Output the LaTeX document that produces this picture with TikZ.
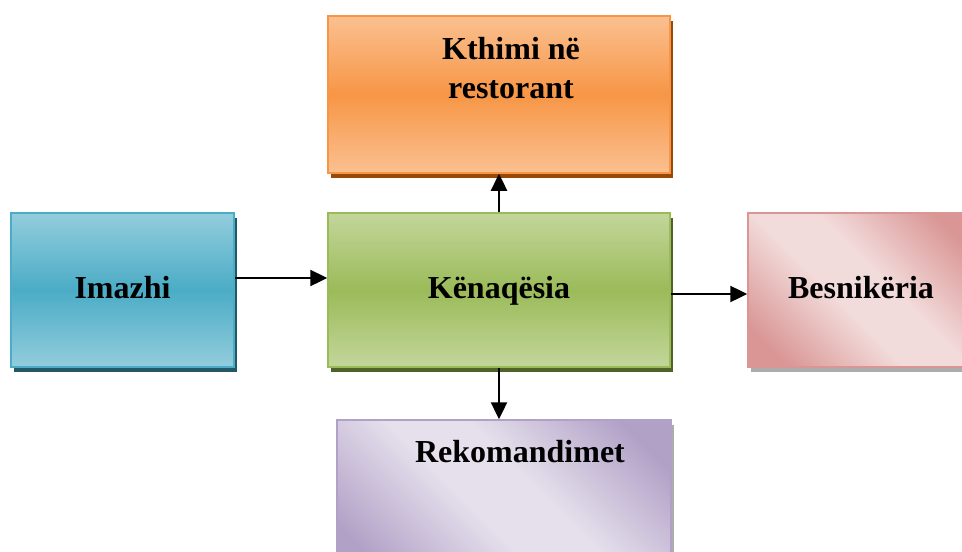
\documentclass[tikz,border=0pt]{standalone}
\usepackage{fontspec}
\setmainfont{Liberation Serif}
\usetikzlibrary{arrows.meta,shadows}

\definecolor{orangeLight}{HTML}{FAC090}
\definecolor{orangeMid}{HTML}{F79646}
\definecolor{orangeShadow}{HTML}{984807}
\definecolor{blueLight}{HTML}{93CDDD}
\definecolor{blueMid}{HTML}{4BACC6}
\definecolor{blueShadow}{HTML}{215968}
\definecolor{greenLight}{HTML}{C3D69B}
\definecolor{greenMid}{HTML}{9BBB59}
\definecolor{greenShadow}{HTML}{4F6228}
\definecolor{pinkDark}{HTML}{D99694}
\definecolor{pinkLight}{HTML}{F2DCDB}
\definecolor{purpleDark}{HTML}{B2A1C7}
\definecolor{purpleLight}{HTML}{E5E0EC}

% dark corners, wide light band
\pgfdeclareverticalshading{pinkdiag}{100bp}{color(0bp)=(pinkDark); color(22bp)=(pinkDark);
  color(44bp)=(pinkLight); color(56bp)=(pinkLight); color(78bp)=(pinkDark); color(100bp)=(pinkDark)}
\pgfdeclareverticalshading{purplediag}{100bp}{color(0bp)=(purpleDark); color(22bp)=(purpleDark);
  color(44bp)=(purpleLight); color(56bp)=(purpleLight); color(78bp)=(purpleDark); color(100bp)=(purpleDark)}

\tikzset{
  label font/.style={font=\fontsize{16}{19.5}\selectfont\bfseries},
  box/.style={rectangle,line width=0.75pt,minimum height=77pt,
    text height=8pt,text depth=0pt,label font},
  vbox/.style n args={4}{box,draw=#2,top color=#1,bottom color=#1,middle color=#2,
    drop shadow={shadow xshift=1.5pt,shadow yshift=-2.5pt,fill=#3,opacity=1}},
  dbox/.style 2 args={box,draw=#1,shading=#2,shading angle=-45,
    drop shadow={shadow xshift=1.5pt,shadow yshift=-2.5pt,fill=gray!65,opacity=1}},
  link/.style={->,line width=1.2pt}
}

\begin{document}
\begin{tikzpicture}[x=0.5pt,y=-0.5pt,>={Triangle[length=8.5pt,width=8pt]}]
  \useasboundingbox (0,0) rectangle (962,551);
  \clip (0,0) rectangle (962,551);
  % boxes
  \node[vbox={orangeLight}{orangeMid}{orangeShadow}{},minimum width=171pt,minimum height=78.5pt] (kthimi) at (499,94.5) {};
  \node[vbox={blueLight}{blueMid}{blueShadow}{},minimum width=111.5pt] (imazhi) at (122.5,290) {Imazhi};
  \node[vbox={greenLight}{greenMid}{greenShadow}{},minimum width=171pt] (kenaqesia) at (499,290) {Kënaqësia};
  \node[dbox={pinkDark}{pinkdiag},minimum width=113pt] (besnikeria) at (861,290) {Besnikëria};
  \node[dbox={purpleDark}{purplediag},minimum width=167pt,minimum height=78pt] (rekomandimet) at (504,498) {};
  % texts of the two tall boxes
  \node[label font,align=center,anchor=north,inner sep=0pt] (kthimiTxt) at (511,37) {Kthimi në\\restorant};
  \node[label font,anchor=base,inner sep=0pt] (rekomandimetTxt) at (520,462) {Rekomandimet};
  % arrows
  \draw[link] ([yshift=6pt]imazhi.east) -- ([yshift=6pt]kenaqesia.west);
  \draw[link] ([yshift=-2pt]kenaqesia.east) -- ([yshift=-2pt]kenaqesia.east -| besnikeria.west);
  \draw[link] (kenaqesia.north) -- (kthimi.south);
  \draw[link] (kenaqesia.south) -- (kenaqesia.south |- rekomandimet.north);
\end{tikzpicture}
\end{document}
